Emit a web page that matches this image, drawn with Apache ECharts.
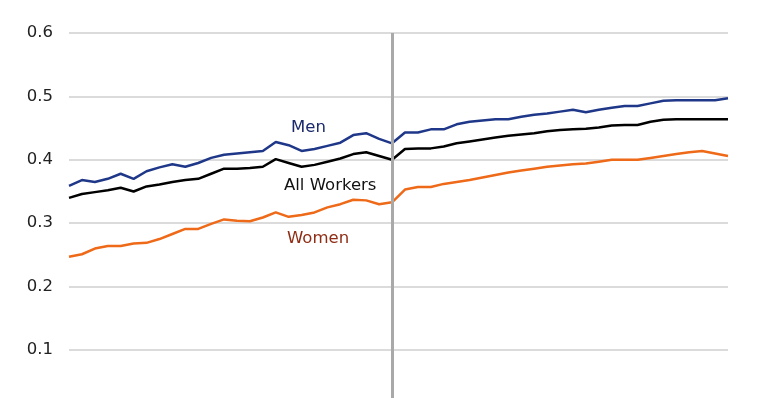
<!DOCTYPE html>
<html>
<head>
<meta charset="utf-8">
<script src="https://cdn.jsdelivr.net/npm/echarts@6/dist/echarts.min.js"></script>
<style>
  html, body { margin: 0; padding: 0; background: #fff; height: 398px; overflow: hidden; }
  /* the original is cropped: the zero line sits below the visible area */
  #main { width: 775px; height: 420px; }
</style>
</head>
<body>
<div id="main"></div>
<script>
// yearly points, x axis is not labelled in the original
var years = [];
for (var y = 1960; y <= 2011; y++) years.push(String(y));

var men = [0.359, 0.368, 0.365, 0.370, 0.378, 0.370, 0.382, 0.388, 0.393, 0.389,
  0.395, 0.403, 0.408, 0.410, 0.412, 0.414, 0.428, 0.423, 0.414, 0.417,
  0.422, 0.427, 0.439, 0.442, 0.433, 0.426, 0.443, 0.443, 0.448, 0.448,
  0.456, 0.460, 0.462, 0.464, 0.464, 0.468, 0.471, 0.473, 0.476, 0.479,
  0.475, 0.479, 0.482, 0.485, 0.485, 0.489, 0.493, 0.494, 0.494, 0.494,
  0.494, 0.497];

var allWorkers = [0.340, 0.346, 0.349, 0.352, 0.356, 0.350, 0.358, 0.361, 0.365, 0.368,
  0.370, 0.378, 0.386, 0.386, 0.387, 0.389, 0.401, 0.395, 0.389, 0.392,
  0.397, 0.402, 0.409, 0.412, 0.406, 0.400, 0.417, 0.418, 0.418, 0.421,
  0.426, 0.429, 0.432, 0.435, 0.438, 0.440, 0.442, 0.445, 0.447, 0.448,
  0.449, 0.451, 0.454, 0.455, 0.455, 0.460, 0.463, 0.464, 0.464, 0.464,
  0.464, 0.464];

var women = [0.247, 0.251, 0.260, 0.264, 0.264, 0.268, 0.269, 0.275, 0.283, 0.291,
  0.291, 0.299, 0.306, 0.304, 0.303, 0.309, 0.317, 0.310, 0.313, 0.317,
  0.325, 0.330, 0.337, 0.336, 0.330, 0.333, 0.353, 0.357, 0.357, 0.362,
  0.365, 0.368, 0.372, 0.376, 0.380, 0.383, 0.386, 0.389, 0.391, 0.393,
  0.394, 0.397, 0.400, 0.400, 0.400, 0.403, 0.406, 0.409, 0.412, 0.414,
  0.410, 0.406];

var breakYear = years[25];

var font = 'DejaVu Sans';
var chart = echarts.init(document.getElementById('main'));

chart.setOption({
  animation: false,
  backgroundColor: '#fff',
  grid: { left: 69, right: 47, top: 33, bottom: 6.6 },
  xAxis: {
    type: 'category',
    data: years,
    boundaryGap: false,
    axisLine: { show: false },
    axisTick: { show: false },
    axisLabel: { show: false },
    splitLine: { show: false }
  },
  yAxis: {
    type: 'value',
    min: 0,
    max: 0.6,
    interval: 0.1,
    axisLine: { show: false },
    axisTick: { show: false },
    axisLabel: {
      margin: 16,
      color: '#222',
      fontFamily: font,
      fontSize: 16.5,
      formatter: function (v) { return v === 0 ? '' : v.toFixed(1); }
    },
    splitLine: { lineStyle: { color: '#cfcfcf', width: 1.5 } }
  },
  series: [
    {
      name: 'Men', type: 'line', data: men, symbol: 'none',
      lineStyle: { color: '#1f3788', width: 2.5 },
      markLine: {
        silent: true, symbol: 'none', label: { show: false },
        lineStyle: { color: '#a9a9a9', width: 3, type: 'solid' },
        data: [{ xAxis: breakYear }]
      }
    },
    {
      name: 'All Workers', type: 'line', data: allWorkers, symbol: 'none',
      lineStyle: { color: '#000', width: 2.5 }
    },
    {
      name: 'Women', type: 'line', data: women, symbol: 'none',
      lineStyle: { color: '#ee6918', width: 2.5 }
    }
  ],
  graphic: [
    { type: 'text', left: 291, top: 119, style: { text: 'Men', fill: '#1b2a6e', font: '16.5px "DejaVu Sans"' } },
    { type: 'text', left: 284, top: 177, style: { text: 'All Workers', fill: '#111', font: '16.5px "DejaVu Sans"' } },
    { type: 'text', left: 287, top: 230, style: { text: 'Women', fill: '#8f2c14', font: '16.5px "DejaVu Sans"' } }
  ]
});
</script>
</body>
</html>
